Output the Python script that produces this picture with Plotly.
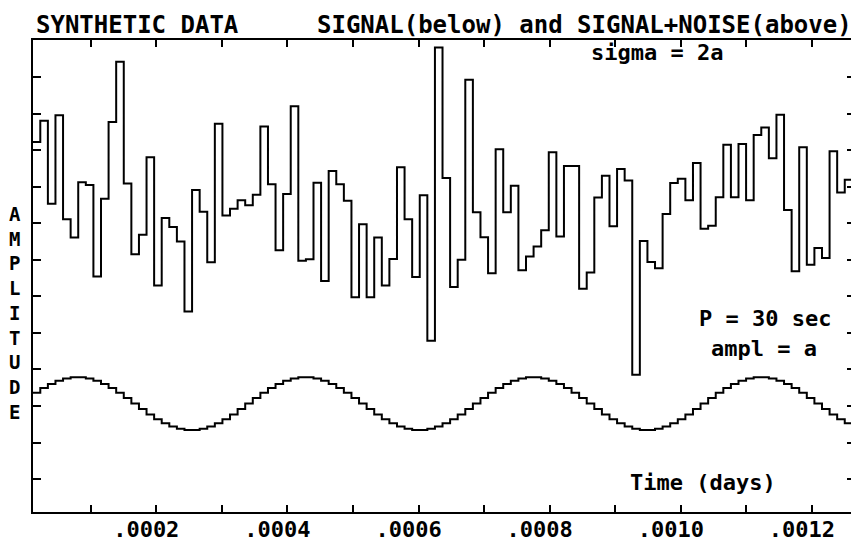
import plotly.graph_objects as go

SEC_PER_DAY = 86400.0

# sample start times (seconds); each sample is held for one second (step plot)
t_sec = list(range(1, 109))

# SIGNAL (below): sine, amplitude a = 1, period 30 s
signal = [
    0.4067, 0.5878, 0.7431, 0.8660, 0.9511, 0.9945, 0.9945, 0.9511, 0.8660, 0.7431,
    0.5878, 0.4067, 0.2079, 0.0, -0.2079, -0.4067, -0.5878, -0.7431, -0.8660, -0.9511,
    -0.9945, -0.9945, -0.9511, -0.8660, -0.7431, -0.5878, -0.4067, -0.2079, 0.0, 0.2079,
    0.4067, 0.5878, 0.7431, 0.8660, 0.9511, 0.9945, 0.9945, 0.9511, 0.8660, 0.7431,
    0.5878, 0.4067, 0.2079, 0.0, -0.2079, -0.4067, -0.5878, -0.7431, -0.8660, -0.9511,
    -0.9945, -0.9945, -0.9511, -0.8660, -0.7431, -0.5878, -0.4067, -0.2079, 0.0, 0.2079,
    0.4067, 0.5878, 0.7431, 0.8660, 0.9511, 0.9945, 0.9945, 0.9511, 0.8660, 0.7431,
    0.5878, 0.4067, 0.2079, 0.0, -0.2079, -0.4067, -0.5878, -0.7431, -0.8660, -0.9511,
    -0.9945, -0.9945, -0.9511, -0.8660, -0.7431, -0.5878, -0.4067, -0.2079, 0.0, 0.2079,
    0.4067, 0.5878, 0.7431, 0.8660, 0.9511, 0.9945, 0.9945, 0.9511, 0.8660, 0.7431,
    0.5878, 0.4067, 0.2079, 0.0, -0.2079, -0.4067, -0.5878, -0.7431,
]

# SIGNAL+NOISE (above), sigma = 2a, plotted with an offset
signal_noise = [
    9.87, 10.67, 7.54, 10.88, 6.96, 6.27, 8.35, 8.25, 4.80, 7.73,
    10.63, 12.90, 8.31, 5.64, 6.37, 9.30, 4.46, 7.00, 6.66, 6.12,
    3.48, 8.06, 7.24, 5.33, 10.56, 7.10, 7.35, 7.67, 7.48, 7.88,
    10.46, 8.28, 5.79, 7.91, 11.22, 5.39, 5.45, 8.33, 4.63, 8.78,
    8.28, 7.65, 4.01, 6.77, 4.01, 6.27, 4.46, 5.46, 8.92, 6.96,
    4.78, 7.86, 2.37, 13.44, 8.51, 4.40, 5.43, 12.22, 7.22, 6.28,
    4.92, 9.60, 7.22, 8.22, 5.03, 5.55, 5.93, 6.54, 9.48, 6.31,
    8.97, 8.97, 4.33, 4.95, 7.78, 8.60, 6.69, 8.85, 8.42, 1.09,
    6.14, 5.34, 5.11, 7.15, 8.32, 8.48, 7.67, 9.08, 6.60, 6.71,
    7.79, 9.77, 7.79, 9.80, 7.67, 10.14, 10.42, 9.26, 10.90, 7.31,
    4.99, 9.67, 5.24, 5.87, 5.49, 9.52, 7.97, 8.45,
]

# x-axis ticks (days) and their labels
x_tickvals = [0.0001, 0.0002, 0.0003, 0.0004, 0.0005, 0.0006,
              0.0007, 0.0008, 0.0009, 0.0010, 0.0011, 0.0012]
x_ticktext = ["", ".0002", "", ".0004", "", ".0006",
              "", ".0008", "", ".0010", "", ".0012"]

title_left = "SYNTHETIC DATA"
title_right = "SIGNAL(below) and SIGNAL+NOISE(above)"
note_sigma = "sigma = 2a"
note_period = "P = 30 sec"
note_ampl = "ampl = a"
x_title = "Time (days)"
y_title = "AMPLITUDE"

# ---------------------------------------------------------------
t_days = [t / SEC_PER_DAY for t in t_sec]
t_end = (t_sec[-1] + 1) / SEC_PER_DAY
x_steps = t_days + [t_end]

FONT = "DejaVu Sans Mono"
OFF = 8                      # default page (body) margin of the html page
W, H = 859 - OFF, 542 - OFF
ML, MR, MT, MB = 25, 4, 32, 30
PW, PH = W - ML - MR, H - MT - MB


def px(x):
    """page pixel x -> paper fraction"""
    return (x - OFF - ML) / PW


def py(y):
    """page pixel y -> paper fraction"""
    return (OFF + H - MB - y) / PH


fig = go.Figure()
fig.add_trace(go.Scatter(
    x=x_steps, y=signal_noise + [signal_noise[-1]], mode="lines",
    line=dict(shape="hv", color="black", width=2), showlegend=False))
fig.add_trace(go.Scatter(
    x=x_steps, y=signal + [signal[-1]], mode="lines",
    line=dict(shape="hv", color="black", width=2), showlegend=False))

tf = dict(family=FONT, size=22, color="black", weight="bold")
ttl = dict(family=FONT, size=24, color="black", weight="bold")

annotations = [
    dict(text=title_left, x=px(34), y=py(25), xanchor="left", yanchor="middle", font=ttl),
    dict(text=title_right, x=px(854), y=py(25), xanchor="right", yanchor="middle", font=ttl),
    dict(text=note_sigma, x=px(657), y=py(52), xanchor="center", yanchor="middle", font=tf),
    dict(text=note_period, x=px(765), y=py(318), xanchor="center", yanchor="middle", font=tf),
    dict(text=note_ampl, x=px(764), y=py(349), xanchor="center", yanchor="middle", font=tf),
    dict(text=x_title, x=px(703), y=py(482), xanchor="center", yanchor="middle", font=tf),
    dict(text="<br>".join(list(y_title)), x=px(15), y=py(313), xanchor="center",
         yanchor="middle", font=dict(family=FONT, size=19, color="black", weight="bold")),
]
for a in annotations:
    a.update(xref="paper", yref="paper", showarrow=False)

fig.update_layout(
    width=W, height=H,
    margin=dict(l=ML, r=MR, t=MT, b=MB, pad=0, autoexpand=False),
    paper_bgcolor="white", plot_bgcolor="white",
    showlegend=False,
    annotations=annotations,
    xaxis=dict(
        range=[1.04 / SEC_PER_DAY, 109.35 / SEC_PER_DAY],
        tickmode="array", tickvals=x_tickvals, ticktext=x_ticktext,
        ticks="inside", ticklen=7, tickwidth=2, tickcolor="black",
        showline=True, linewidth=2, linecolor="black", mirror="ticks",
        showgrid=False, zeroline=False, tickfont=tf, ticklabelshift=-10,
        ticklabelstandoff=-3, automargin=False,
    ),
    yaxis=dict(
        range=[-4.09, 13.72],
        tickmode="linear", tick0=-2.849, dtick=1.379,
        ticks="inside", ticklen=8, tickwidth=2, tickcolor="black",
        showline=True, linewidth=2, linecolor="black", mirror="ticks",
        showgrid=False, zeroline=False, showticklabels=False, automargin=False,
    ),
)

fig.write_html("out.html")
